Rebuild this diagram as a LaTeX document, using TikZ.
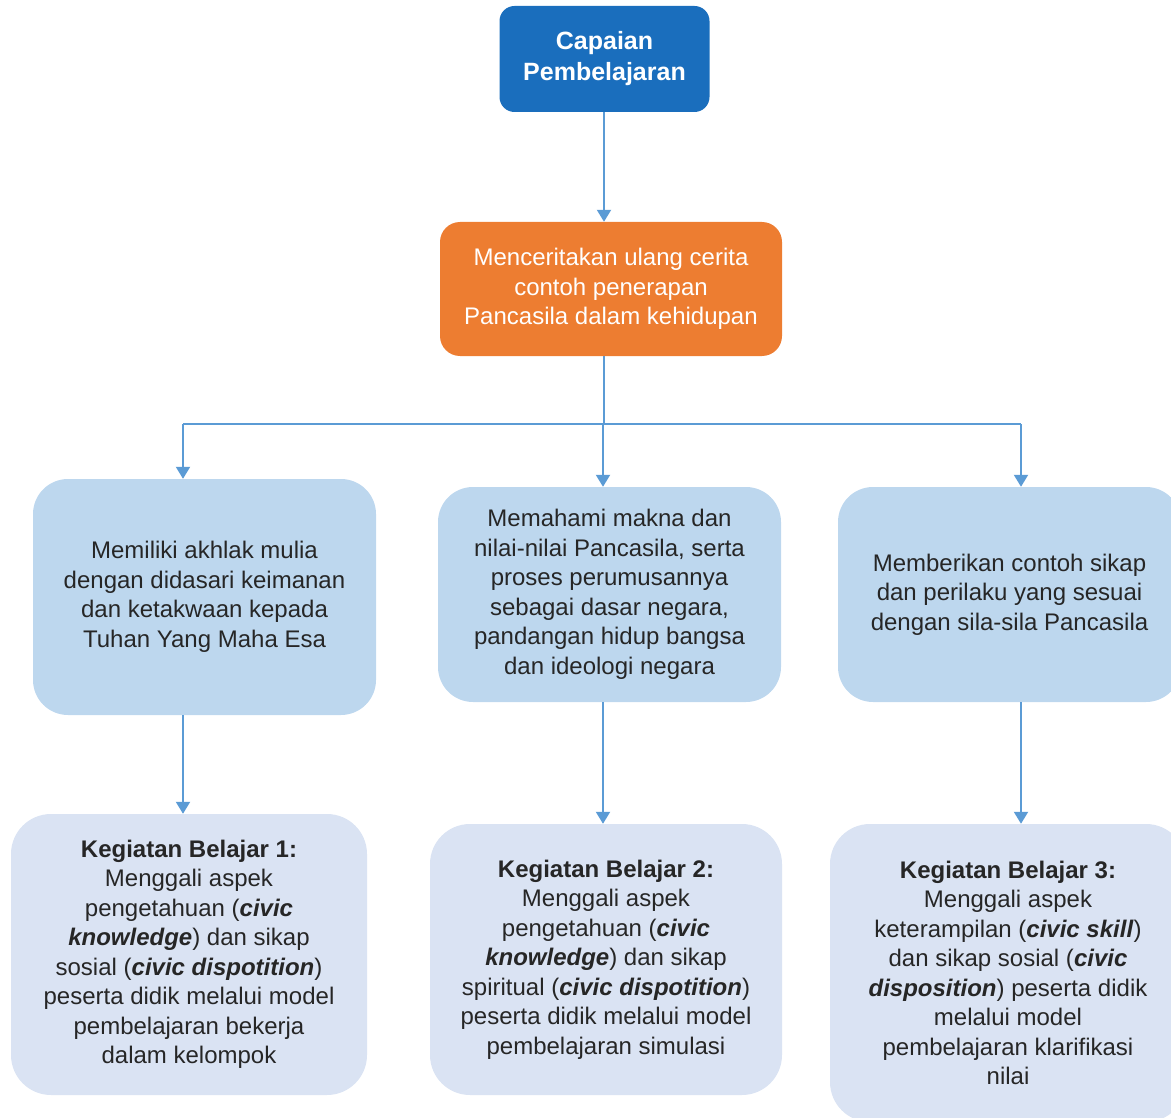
\documentclass[tikz,border=0pt]{standalone}
\usepackage{fontspec}
\setmainfont{Liberation Sans}
\usetikzlibrary{arrows.meta}
\definecolor{topblue}{RGB}{26,110,189}
\definecolor{orng}{RGB}{237,125,49}
\definecolor{midblue}{RGB}{189,215,238}
\definecolor{lowblue}{RGB}{218,227,243}
\definecolor{linec}{RGB}{91,155,213}
\tikzset{
  boxbase/.style={rectangle, inner sep=0pt, align=center, font=\fontsize{24}{29.5}\selectfont,
    execute at begin node={\rule{0pt}{24pt}}},
  topbox/.style={boxbase, fill=topblue, text=white, rounded corners=15pt, font=\fontsize{25}{31}\selectfont\bfseries},
  orbox/.style={boxbase, fill=orng, text=white, rounded corners=20pt},
  midbox/.style={boxbase, fill=midblue, text=black!85, rounded corners=35pt},
  lowbox/.style={boxbase, fill=lowblue, text=black!85, rounded corners=40pt},
  conn/.style={draw=linec, line width=2pt},
  arr/.style={conn, -{Triangle[width=14pt,length=12pt]}}
}
\newcommand{\bi}[1]{\textbf{\textit{#1}}}
\begin{document}
\begin{tikzpicture}[x=1pt,y=-1pt]
\useasboundingbox (0,0) rectangle (1171,1118);
\clip (0,0) rectangle (1171,1118);
\node[topbox, minimum width=210pt, minimum height=106pt] (top) at (604.5,59) {Capaian\\Pembelajaran};
\node[orbox, minimum width=342pt, minimum height=134pt] (or) at (611,289) {Menceritakan ulang cerita\\contoh penerapan\\Pancasila dalam kehidupan};
\node[midbox, minimum width=343pt, minimum height=236pt] (m1) at (204.5,597) {Memiliki akhlak mulia\\dengan didasari keimanan\\dan ketakwaan kepada\\Tuhan Yang Maha Esa};
\node[midbox, minimum width=343pt, minimum height=215pt] (m2) at (609.5,594.5) {Memahami makna dan\\nilai-nilai Pancasila, serta\\proses perumusannya\\sebagai dasar negara,\\pandangan hidup bangsa\\dan ideologi negara};
\node[midbox, minimum width=343pt, minimum height=215pt] (m3) at (1009.5,594.5) {Memberikan contoh sikap\\dan perilaku yang sesuai\\dengan sila-sila Pancasila};
\node[lowbox, minimum width=356pt, minimum height=281pt] (b1) at (189,954.5) {\textbf{Kegiatan Belajar 1:}\\Menggali aspek\\pengetahuan (\bi{civic}\\\bi{knowledge}) dan sikap\\sosial (\bi{civic dispotition})\\peserta didik melalui model\\pembelajaran bekerja\\dalam kelompok};
\node[lowbox, minimum width=352pt, minimum height=271pt] (b2) at (606,959.5) {\textbf{Kegiatan Belajar 2:}\\Menggali aspek\\pengetahuan (\bi{civic}\\\bi{knowledge}) dan sikap\\spiritual (\bi{civic dispotition})\\peserta didik melalui model\\pembelajaran simulasi};
\node[lowbox, minimum width=356pt, minimum height=298pt] (b3) at (1008,973) {\textbf{Kegiatan Belajar 3:}\\Menggali aspek\\keterampilan (\bi{civic skill})\\dan sikap sosial (\bi{civic}\\\bi{disposition}) peserta didik\\melalui model\\pembelajaran klarifikasi\\nilai};
% connectors
\coordinate (t0) at (604,112);
\coordinate (o0) at (604,356);
\coordinate (j) at (604,424);
\coordinate (c1) at (183,424);
\coordinate (c2) at (603,424);
\coordinate (c3) at (1021,424);
\coordinate (d1) at (183,715);
\coordinate (d2) at (603,702);
\coordinate (d3) at (1021,702);
\draw[arr] (t0) -- (t0 |- or.north);
\draw[conn] (o0) -- (j);
\draw[conn] (c1) -- (c3);
\draw[arr] (c1) -- (c1 |- m1.north);
\draw[arr] (c2) -- (c2 |- m2.north);
\draw[arr] (c3) -- (c3 |- m3.north);
\draw[arr] (d1) -- (d1 |- b1.north);
\draw[arr] (d2) -- (d2 |- b2.north);
\draw[arr] (d3) -- (d3 |- b3.north);
\end{tikzpicture}
\end{document}
